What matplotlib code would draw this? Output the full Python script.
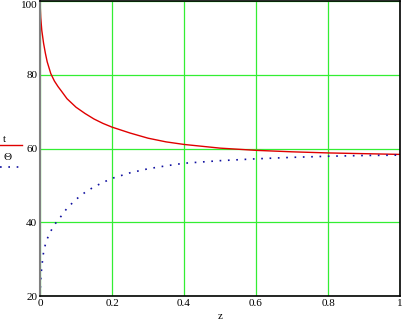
import matplotlib
matplotlib.use("Agg")
import matplotlib.pyplot as plt
from matplotlib.lines import Line2D

z = [0, 0.002, 0.005, 0.01, 0.015, 0.02, 0.03, 0.04, 0.05, 0.06, 0.075,
     0.1, 0.125, 0.15, 0.175, 0.2, 0.25, 0.3, 0.35, 0.4, 0.5,
     0.6, 0.7, 0.8, 0.9, 1.0]
t = [100, 95.5, 92, 88.5, 85.8, 83.5, 80.3, 78.3, 76.8, 75.5, 73.5,
     71.2, 69.5, 68.0, 66.8, 65.8, 64.2, 62.8, 61.8, 61.1, 60.1,
     59.5, 59.1, 58.8, 58.6, 58.4]
theta = [20, 24.5, 28, 32, 34, 35.5, 37.6, 39.3, 40.6, 41.8, 43.8,
         46.2, 48.1, 49.6, 50.8, 51.9, 53.4, 54.5, 55.3, 56.0, 56.7,
         57.2, 57.6, 57.9, 58.1, 58.2]

xticks = [0, 0.2, 0.4, 0.6, 0.8, 1]
xlabels = ["0", "0.2", "0.4", "0.6", "0.8", "1"]
yticks = [20, 40, 60, 80, 100]

plt.rcParams['font.family'] = ['Liberation Serif', 'DejaVu Serif']

fig = plt.figure(figsize=(4.03, 3.25), dpi=100)
ax = fig.add_axes([40/403, 29/325, 360/403, 295/325])

ax.plot(z, t, color='#e00000', lw=1.0)
ax.plot(z, theta, color='#1010a0', lw=1.2, linestyle=(0, (1, 4)))

ax.set_xlim(0, 1)
ax.set_ylim(20, 100)
ax.set_xticks(xticks)
ax.set_xticklabels(xlabels)
ax.set_yticks(yticks)
ax.tick_params(length=0, labelsize=8, pad=2)
ax.grid(True, color='#33ee33', lw=0.9)
ax.set_axisbelow(True)
for s in ['top', 'right', 'bottom']:
    ax.spines[s].set_color('black')
    ax.spines[s].set_linewidth(1.2)
ax.spines['left'].set_color('#808080')
ax.spines['left'].set_linewidth(1.5)

for lbl in ax.get_yticklabels():
    if lbl.get_text() == '100':
        lbl.set_verticalalignment('top')

ax.set_xlabel('z', fontsize=8, labelpad=3)

# legend at left side
fig.text(3/403, 1 - 139/325, 't', fontsize=8, va='center', ha='left')
fig.add_artist(Line2D([0, 22/403], [1 - 145/325] * 2, color='#e00000', lw=1.0))
fig.text(3/403, 1 - 157/325, 'Θ', fontsize=8, va='center', ha='left')
fig.add_artist(Line2D([0, 22/403], [1 - 167/325] * 2, color='#1010a0', lw=1.2,
                      linestyle=(0, (1, 4))))

fig.savefig('out.png', dpi=100)
